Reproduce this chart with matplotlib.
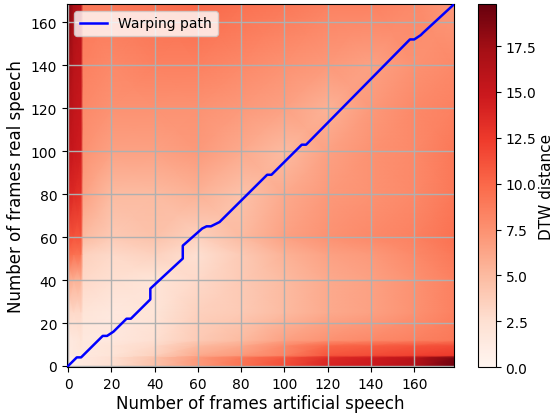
import matplotlib
matplotlib.use("Agg")
import matplotlib.pyplot as plt
import numpy as np

# Coarse DTW distance grid (nodes in frame units)
x_nodes = [-0.5, 2.5, 6.0, 7.0, 20, 40, 60, 80, 100, 120, 140, 160, 178.5]
y_nodes = [-0.5, 4.0, 5.0, 9.5, 12, 25, 40, 52, 60, 80, 100, 120, 140, 168.5]
dist_rows = [
    [0.5, 1.0, 1.5, 1.5, 2.5, 4.5, 7.0, 9.5, 11.5, 14.0, 15.0, 16.5, 19.5],
    [0.5, 1.0, 1.5, 1.5, 2.5, 4.5, 7.0, 9.0, 11.0, 13.5, 14.5, 16.0, 19.0],
    [1.0, 1.5, 1.5, 1.5, 2.0, 3.5, 6.0, 7.0, 8.5, 11.0, 11.5, 12.0, 12.5],
    [1.5, 1.5, 2.0, 1.5, 2.0, 3.0, 5.0, 6.0, 8.0, 10.0, 10.5, 11.0, 11.5],
    [1.5, 1.5, 2.0, 1.5, 1.5, 2.5, 4.0, 5.0, 6.5, 7.5, 8.0, 8.5, 9.0],
    [3.0, 3.0, 3.0, 2.0, 1.5, 2.0, 3.5, 4.0, 5.0, 6.0, 6.5, 7.5, 8.5],
    [6.0, 5.5, 5.5, 3.0, 2.5, 2.0, 3.0, 4.0, 5.0, 6.0, 6.5, 7.5, 8.5],
    [10.0, 9.5, 9.5, 3.5, 3.0, 3.5, 2.5, 4.0, 5.5, 6.5, 7.0, 8.0, 9.0],
    [11.5, 11.0, 11.0, 5.0, 4.0, 4.5, 3.5, 5.0, 6.5, 7.5, 8.0, 8.5, 9.5],
    [14.0, 13.5, 13.0, 6.5, 5.0, 5.0, 5.5, 4.5, 6.0, 7.0, 7.5, 8.0, 9.0],
    [15.5, 15.0, 14.5, 7.5, 6.5, 6.5, 7.0, 6.0, 5.0, 6.5, 7.5, 8.0, 9.0],
    [16.5, 15.5, 15.0, 8.0, 7.5, 7.5, 7.5, 7.0, 6.5, 5.5, 7.0, 8.0, 8.5],
    [17.5, 16.0, 15.5, 8.5, 8.0, 8.5, 8.5, 8.0, 7.5, 7.0, 6.5, 7.5, 8.0],
    [19.5, 17.0, 16.0, 9.0, 9.0, 9.5, 10.0, 9.5, 9.0, 8.5, 8.5, 8.0, 7.0],
]
vmax = 19.8

# Warping path vertices (artificial frame, real frame)
path_x = [0, 4, 6, 16, 18, 21, 27, 29, 38, 38, 53, 53, 62, 64, 66, 70, 92, 94, 108, 110, 158, 160, 163, 164, 178]
path_y = [0, 4, 4, 14, 14, 16, 22, 22, 31, 36, 50, 56, 64, 65, 65, 67, 89, 89, 103, 103, 152, 152, 154, 155, 168]

xticks = [0, 20, 40, 60, 80, 100, 120, 140, 160]
yticks = [0, 20, 40, 60, 80, 100, 120, 140, 160]
cticks = [0.0, 2.5, 5.0, 7.5, 10.0, 12.5, 15.0, 17.5]

fig = plt.figure(figsize=(5.54, 4.14), dpi=100)
ax = fig.add_axes([0.121, 0.111, 0.699, 0.877])
cax = fig.add_axes([0.863, 0.111, 0.032, 0.877])

X, Y = np.meshgrid(x_nodes, y_nodes)
Z = np.array(dist_rows)
mesh = ax.pcolormesh(X, Y, Z, cmap="Reds", vmin=0, vmax=vmax, shading="gouraud", zorder=0)
ax.plot(path_x, path_y, color="blue", lw=1.8, label="Warping path", zorder=3)

ax.set_xlim(-0.5, 178.5)
ax.set_ylim(-0.5, 168.5)
ax.set_xticks(xticks)
ax.set_yticks(yticks)
ax.tick_params(labelsize=10)
ax.grid(True, color="#b0b0b0", lw=1.0)
ax.set_xlabel("Number of frames artificial speech", fontsize=12, labelpad=2)
ax.set_ylabel("Number of frames real speech", fontsize=12)
ax.legend(loc="upper left", fontsize=10)

cb = fig.colorbar(mesh, cax=cax, ticks=cticks)
cb.ax.tick_params(labelsize=10)
cb.set_label("DTW distance", fontsize=11, labelpad=2)

fig.savefig("out.png", dpi=100)
